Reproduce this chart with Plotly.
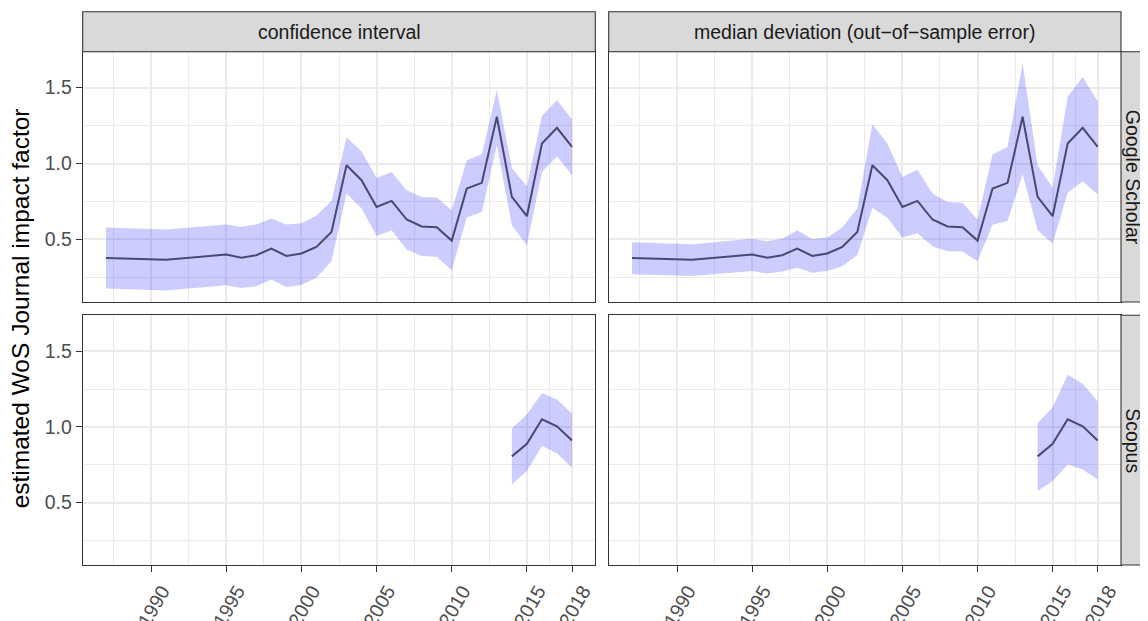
import plotly.graph_objects as go

# The page body has an 8px margin, so the figure is drawn 8px in from the corner.
OFF = 8
W, H = 1148 - OFF, 621 - OFF

# ---------------- data ----------------
years_gs = [1987, 1991, 1995, 1996, 1997, 1998, 1999, 2000, 2001, 2002, 2003, 2004, 2005,
            2006, 2007, 2008, 2009, 2010, 2011, 2012, 2013, 2014, 2015, 2016, 2017, 2018]
est_gs = [0.378, 0.366, 0.400, 0.380, 0.396, 0.439, 0.391, 0.407, 0.450, 0.549, 0.989, 0.890, 0.714,
          0.754, 0.631, 0.585, 0.580, 0.492, 0.835, 0.873, 1.308, 0.780, 0.653, 1.132, 1.235, 1.110]
ci_lo_gs = [0.176, 0.163, 0.198, 0.180, 0.191, 0.235, 0.187, 0.200, 0.248, 0.356, 0.802, 0.703, 0.523,
            0.560, 0.433, 0.391, 0.385, 0.297, 0.644, 0.681, 1.121, 0.593, 0.462, 0.945, 1.048, 0.923]
ci_hi_gs = [0.578, 0.566, 0.599, 0.584, 0.598, 0.637, 0.598, 0.607, 0.657, 0.754, 1.171, 1.081, 0.905,
            0.945, 0.824, 0.780, 0.776, 0.692, 1.022, 1.062, 1.484, 0.971, 0.851, 1.314, 1.418, 1.292]
md_lo_gs = [0.270, 0.259, 0.292, 0.275, 0.288, 0.314, 0.281, 0.292, 0.323, 0.398, 0.708, 0.642, 0.512,
            0.541, 0.455, 0.422, 0.420, 0.356, 0.596, 0.622, 0.930, 0.560, 0.473, 0.807, 0.884, 0.796]
md_hi_gs = [0.481, 0.468, 0.505, 0.488, 0.505, 0.560, 0.501, 0.512, 0.578, 0.705, 1.259, 1.132, 0.912,
            0.960, 0.802, 0.747, 0.741, 0.631, 1.059, 1.110, 1.659, 0.989, 0.840, 1.440, 1.571, 1.411]

years_sc = [2014, 2015, 2016, 2017, 2018]
est_sc = [0.805, 0.888, 1.050, 1.004, 0.910]
ci_lo_sc = [0.620, 0.708, 0.873, 0.825, 0.730]
ci_hi_sc = [0.989, 1.081, 1.224, 1.180, 1.088]
md_lo_sc = [0.577, 0.643, 0.752, 0.719, 0.653]
md_hi_sc = [1.026, 1.130, 1.344, 1.285, 1.169]

col_labels = ["confidence interval", "median deviation (out\u2212of\u2212sample error)"]
row_labels = ["Google Scholar", "Scopus"]
x_ticks = [1990, 1995, 2000, 2005, 2010, 2015, 2018]
x_minor = [1987.5, 1992.5, 1997.5, 2002.5, 2007.5, 2012.5, 2016.5]
y_ticks = [0.5, 1.0, 1.5]
y_tick_text = ["0.5", "1.0", "1.5"]
y_minor = [0.25, 0.75, 1.25]
y_title = "estimated WoS Journal impact factor"

# ---------------- layout geometry (reference pixels) ----------------
def px(x):
    return (x - OFF) / W

def py(y):
    return 1 - (y - OFF) / H

col_dom = [(82.7, 595.3), (608.7, 1121.0)]
row_dom = [(51.7, 302.0), (315.3, 565.0)]
strip_top = 11.7
strip_right = 1162.0

RIBBON = "rgba(0,0,255,0.2)"
LINE = "#4a4773"
FONT = "Liberation Sans, Arial, Helvetica, sans-serif"

fig = go.Figure()

panels = [
    (0, 0, years_gs, est_gs, ci_lo_gs, ci_hi_gs),
    (0, 1, years_gs, est_gs, md_lo_gs, md_hi_gs),
    (1, 0, years_sc, est_sc, ci_lo_sc, ci_hi_sc),
    (1, 1, years_sc, est_sc, md_lo_sc, md_hi_sc),
]

for r, c, yrs, est, lo, hi in panels:
    idx = r * 2 + c + 1
    xa = "x" if idx == 1 else f"x{idx}"
    ya = "y" if idx == 1 else f"y{idx}"
    fig.add_trace(go.Scatter(x=yrs, y=lo, mode="lines", line=dict(width=0, color=RIBBON),
                             xaxis=xa, yaxis=ya, showlegend=False, hoverinfo="skip"))
    fig.add_trace(go.Scatter(x=yrs, y=hi, mode="lines", line=dict(width=0, color=RIBBON),
                             fill="tonexty", fillcolor=RIBBON,
                             xaxis=xa, yaxis=ya, showlegend=False, hoverinfo="skip"))
    fig.add_trace(go.Scatter(x=yrs, y=est, mode="lines", line=dict(width=2, color=LINE),
                             xaxis=xa, yaxis=ya, showlegend=False))

layout = dict(
    width=W, height=H,
    margin=dict(l=0, r=0, t=0, b=0),
    paper_bgcolor="white", plot_bgcolor="white",
    font=dict(family=FONT, color="#4d4d4d"),
    shapes=[], annotations=[],
)

for r in range(2):
    for c in range(2):
        idx = r * 2 + c + 1
        xk = "xaxis" if idx == 1 else f"xaxis{idx}"
        yk = "yaxis" if idx == 1 else f"yaxis{idx}"
        ya_name = "y" if idx == 1 else f"y{idx}"
        xa_name = "x" if idx == 1 else f"x{idx}"
        bottom = r == 1
        left = c == 0
        layout[xk] = dict(
            domain=[px(col_dom[c][0]), px(col_dom[c][1])],
            anchor=ya_name, range=[1985.45, 2019.55],
            tickmode="array", tickvals=x_ticks, ticktext=[str(v) for v in x_ticks],
            showticklabels=bottom, ticks="outside" if bottom else "",
            ticklen=6, tickwidth=1.1, tickcolor="#333333", tickangle=-60,
            ticklabelshift=11, ticklabelstandoff=0,
            tickfont=dict(size=19.5, color="#4d4d4d", family=FONT),
            showline=True, mirror=True, linecolor="#333333", linewidth=1.1,
            showgrid=True, gridcolor="#ebebeb", gridwidth=1.6, zeroline=False,
            minor=dict(tickmode="array", tickvals=x_minor, showgrid=True,
                       gridcolor="#ebebeb", gridwidth=0.8, ticks=""),
            automargin=False, fixedrange=True,
        )
        layout[yk] = dict(
            domain=[py(row_dom[r][1]), py(row_dom[r][0])],
            anchor=xa_name, range=[0.0875, 1.737],
            tickmode="array", tickvals=y_ticks, ticktext=y_tick_text,
            showticklabels=left, ticks="outside" if left else "",
            ticklen=6, tickwidth=1.1, tickcolor="#333333",
            tickfont=dict(size=19.5, color="#4d4d4d", family=FONT),
            showline=True, mirror=True, linecolor="#333333", linewidth=1.1,
            showgrid=True, gridcolor="#ebebeb", gridwidth=1.6, zeroline=False,
            minor=dict(tickmode="array", tickvals=y_minor, showgrid=True,
                       gridcolor="#ebebeb", gridwidth=0.8, ticks=""),
            automargin=False, fixedrange=True,
        )

# column strips
for c in range(2):
    x0, x1 = col_dom[c]
    layout["shapes"].append(dict(type="rect", xref="paper", yref="paper",
                                 x0=px(x0), x1=px(x1), y0=py(row_dom[0][0]), y1=py(strip_top),
                                 fillcolor="#d9d9d9", line=dict(color="#333333", width=1.1),
                                 layer="above"))
    layout["annotations"].append(dict(xref="paper", yref="paper",
                                      x=px((x0 + x1) / 2), y=py((strip_top + row_dom[0][0]) / 2),
                                      text=col_labels[c], showarrow=False,
                                      xanchor="center", yanchor="middle",
                                      font=dict(size=19.5, color="#1a1a1a", family=FONT)))

# row strips
for r in range(2):
    y0, y1 = row_dom[r]
    layout["shapes"].append(dict(type="rect", xref="paper", yref="paper",
                                 x0=px(col_dom[1][1]), x1=px(strip_right), y0=py(y1), y1=py(y0),
                                 fillcolor="#d9d9d9", line=dict(color="#333333", width=1.1),
                                 layer="above"))
    layout["annotations"].append(dict(xref="paper", yref="paper",
                                      x=px(1133.0), y=py((y0 + y1) / 2),
                                      text=row_labels[r], showarrow=False, textangle=90,
                                      xanchor="center", yanchor="middle",
                                      font=dict(size=19.5, color="#1a1a1a", family=FONT)))

# y-axis title
layout["annotations"].append(dict(xref="paper", yref="paper",
                                  x=px(20), y=py((row_dom[0][0] + row_dom[1][1]) / 2),
                                  text=y_title, showarrow=False, textangle=-90,
                                  xanchor="center", yanchor="middle",
                                  font=dict(size=24.5, color="black", family=FONT)))

fig.update_layout(**layout)
fig.write_html("out.html")
